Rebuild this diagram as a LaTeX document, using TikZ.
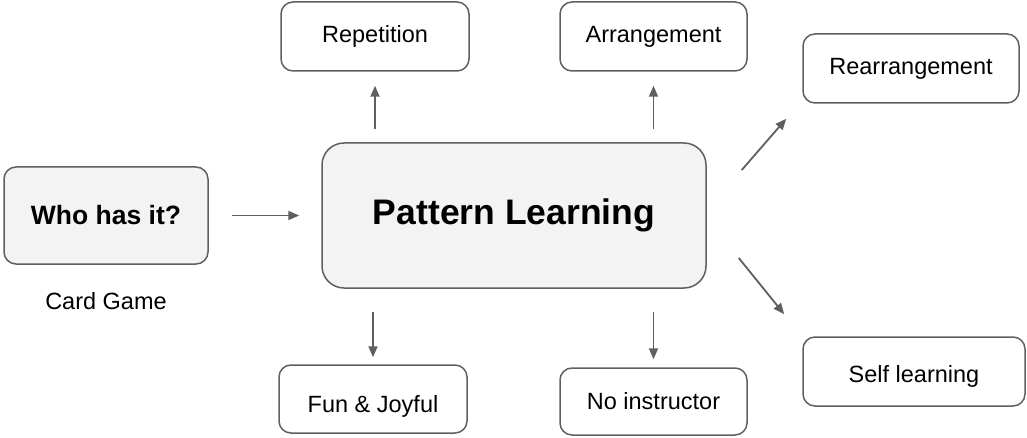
\documentclass[tikz,border=0pt]{standalone}
\usepackage{fontspec}
\setmainfont{Liberation Sans}
\usetikzlibrary{arrows.meta}
\definecolor{edge}{HTML}{5F5F5F}
\definecolor{shade}{HTML}{F3F3F3}

\begin{document}
\begin{tikzpicture}[x=1pt,y=1pt,
  box/.style={draw=edge,line width=1.5pt,rounded corners=12pt,inner sep=0pt,font=\fontsize{23.5}{28}\selectfont},
  arr/.style={draw=edge,line width=1.8pt,-{Triangle[length=11pt,width=9pt]}}]
\useasboundingbox (0,0) rectangle (1027,437);
\node[box,fill=shade,minimum width=204,minimum height=97,font=\bfseries\fontsize{26.5}{30}\selectfont] (W) at (106,221.5) {Who has it?};
\node[font=\fontsize{23.5}{28}\selectfont] (C) at (106,136) {Card Game};
\node[box,fill=shade,rounded corners=22pt,minimum width=384,minimum height=145,font=\bfseries\fontsize{35.5}{40}\selectfont] (P) at (514,221.5) {Pattern Learning};
\node[box,minimum width=188,minimum height=69] (R) at (375,400.5) {Repetition};
\node[box,minimum width=187,minimum height=69] (A) at (653.5,400.5) {Arrangement};
\node[box,minimum width=216,minimum height=69] (RA) at (911,368.5) {Rearrangement};
\node[box,minimum width=188,minimum height=68,text height=31pt,text depth=5pt] (F) at (373,38) {Fun \& Joyful};
\node[box,minimum width=187,minimum height=67] (N) at (653.5,35.5) {No instructor};
\node[box,minimum width=222,minimum height=69,text height=27pt,text depth=5pt] (S) at (914,65.5) {Self learning};
\draw[arr,shorten <=23pt,shorten >=22pt] (W) -- (P);
\draw[arr,shorten <=13pt,shorten >=14pt] (P.north -| R.south) -- (R.south);
\draw[arr,shorten <=13pt,shorten >=14pt] (P.north -| A.south) -- (A.south);
\draw[arr] ([shift={(35,45.5)}]P.east) -- ([shift={(-16,-15)}]RA.south west);
\draw[arr] ([shift={(32,-42.5)}]P.east) -- ([shift={(-18,22)}]S.north west);
\draw[arr,shorten <=23pt,shorten >=7pt] (P.south -| F.north) -- (F.north);
\draw[arr,shorten <=23pt,shorten >=8pt] (P.south -| N.north) -- (N.north);
\end{tikzpicture}
\end{document}
